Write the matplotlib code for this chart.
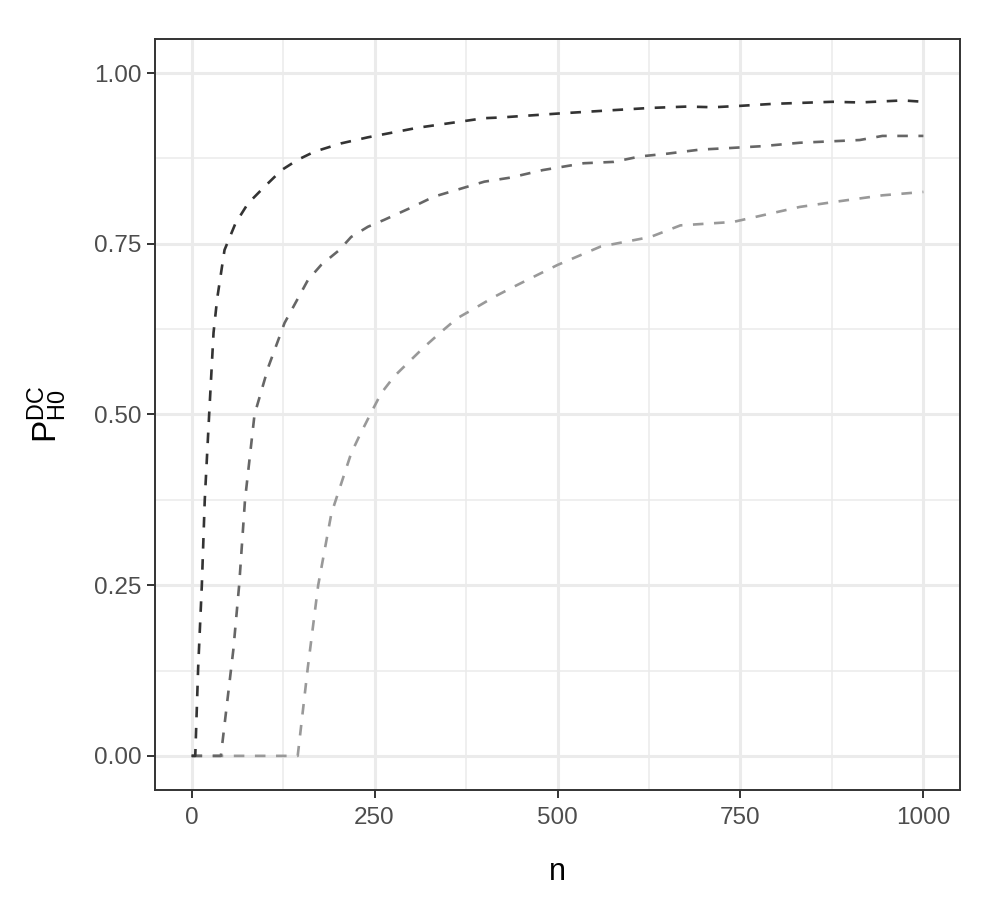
import matplotlib
matplotlib.use("Agg")
import matplotlib.pyplot as plt

plt.rcParams['font.family'] = ['Liberation Sans', 'DejaVu Sans']
plt.rcParams['mathtext.fontset'] = 'custom'
plt.rcParams['mathtext.rm'] = 'Liberation Sans'
plt.rcParams['mathtext.default'] = 'regular'

# values
n_dark = [0, 5, 9, 14, 18, 24, 30, 35, 45, 60, 77, 100, 123, 145, 168, 204, 241,
          309, 400, 422, 504, 580, 627, 677, 713, 749, 795, 876, 913, 972, 1000]
p_dark = [0, 0, 0.13, 0.25, 0.375, 0.5, 0.62, 0.67, 0.741, 0.78, 0.809, 0.834, 0.858,
          0.873, 0.885, 0.897, 0.906, 0.92, 0.934, 0.935, 0.941, 0.946, 0.949, 0.951,
          0.950, 0.952, 0.955, 0.958, 0.957, 0.960, 0.958]

n_mid = [0, 40, 57, 65, 73, 86, 105, 127, 159, 177, 202, 218, 241, 263, 300, 331,
         400, 436, 480, 536, 577, 613, 650, 695, 731, 780, 831, 913, 944, 1000]
p_mid = [0, 0, 0.155, 0.25, 0.375, 0.5, 0.57, 0.634, 0.697, 0.719, 0.741, 0.760,
         0.775, 0.785, 0.803, 0.819, 0.841, 0.847, 0.858, 0.868, 0.870, 0.878, 0.882,
         0.888, 0.890, 0.893, 0.898, 0.902, 0.908, 0.908]

n_light = [0, 145, 159, 173, 191, 218, 229, 245, 259, 277, 295, 318, 341, 363, 386,
           413, 440, 468, 500, 559, 627, 668, 740, 831, 876, 944, 1000]
p_light = [0, 0, 0.131, 0.25, 0.355, 0.443, 0.468, 0.502, 0.531, 0.556, 0.575, 0.599,
           0.621, 0.641, 0.655, 0.672, 0.687, 0.702, 0.719, 0.746, 0.760, 0.777, 0.782,
           0.804, 0.811, 0.821, 0.826]

x_ticks = [0, 250, 500, 750, 1000]
y_ticks = [0.00, 0.25, 0.50, 0.75, 1.00]

fig = plt.figure(figsize=(10, 9), dpi=100)
ax = fig.add_axes([0.155, 0.1222, 0.805, 0.8345])

# ggplot theme_bw style grid
for v in [125, 375, 625, 875]:
    ax.axvline(v, color='#EBEBEB', lw=1.1, zorder=0)
for v in [0.125, 0.375, 0.625, 0.875]:
    ax.axhline(v, color='#EBEBEB', lw=1.1, zorder=0)
for v in x_ticks:
    ax.axvline(v, color='#EBEBEB', lw=2.2, zorder=0)
for v in y_ticks:
    ax.axhline(v, color='#EBEBEB', lw=2.2, zorder=0)

for n, p, c in [(n_light, p_light, '#999999'), (n_mid, p_mid, '#666666'),
                (n_dark, p_dark, '#333333')]:
    ax.plot(n, p, color=c, lw=1.9, dashes=(4, 4), zorder=2)

ax.set_xlim(-50, 1050)
ax.set_ylim(-0.05, 1.05)
ax.set_xticks(x_ticks)
ax.set_xticklabels([str(v) for v in x_ticks])
ax.set_yticks(y_ticks)
ax.set_yticklabels(['%.2f' % v for v in y_ticks])
ax.tick_params(direction='out', length=5.5, width=1.4, color='#333333',
               labelsize=17.5, labelcolor='#4D4D4D', pad=4)
ax.tick_params(axis='x', pad=7)
for s in ax.spines.values():
    s.set_color('#333333')
    s.set_linewidth(1.4)

ax.set_xlabel('n', fontsize=22, labelpad=20)
ax.set_ylabel(r'$P_{H0}^{DC}$', fontsize=24, labelpad=18)

fig.savefig('out.png', dpi=100)
